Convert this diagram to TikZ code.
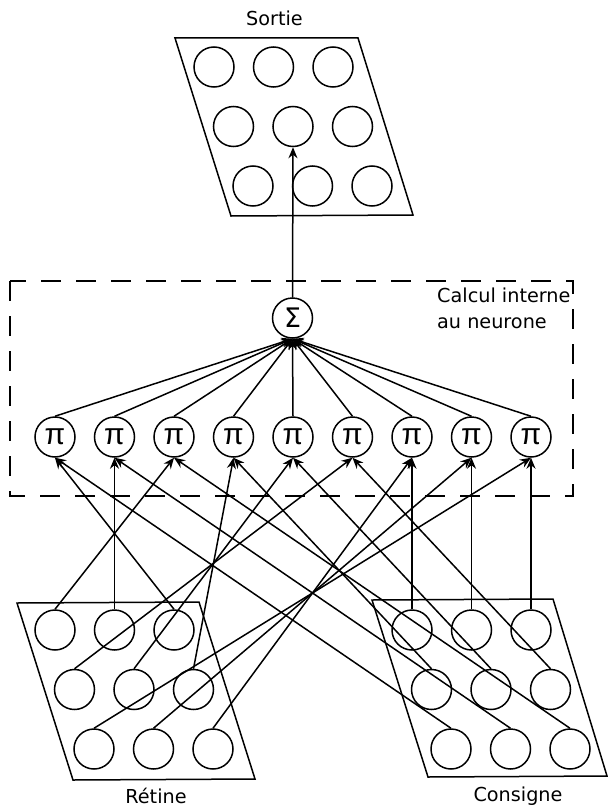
\documentclass[tikz,border=0pt]{standalone}
\usepackage{fontspec}
\setmainfont{DejaVu Sans}
\newfontfamily\grec{Liberation Sans}
\usetikzlibrary{arrows.meta}
\tikzset{
	neurone/.style={draw, circle, line width=1.5bp, minimum size=40bp, inner sep=0pt},
	lien/.style={-{Stealth[length=11bp,width=9bp]}, line width=1.5bp},
	etiquette/.style={font=\fontsize{19.3}{25.5}\selectfont, inner sep=0pt},
	cadre/.style={line width=1.5bp}
}
\begin{document}
\begin{tikzpicture}[x=1bp,y=-1bp]
			\useasboundingbox (0,0) rectangle (608,808);

			% Output layer
			\begin{scope}[shift={(214,67)}]
				\draw[cadre] (-39,-29) -- (144,-29) -- (199,148) -- (17,149) -- cycle;
				\foreach \i in {1,2,3}
					\foreach \j in {1,2,3}
						\node[neurone] (s\i\j) at ({19.5*(\i-1)+59.5*(\j-1)},{59.5*(\i-1)}) {};
			\end{scope}
			\node[etiquette, anchor=base] (sortie) at (274.5,26) {Sortie};

			% Internal computation of the neuron
			\draw[cadre, dash pattern=on 20bp off 15bp] (10,281) rectangle (573,496);
			\node[etiquette, anchor=north west, align=left] (calcul) at (437,288) {Calcul interne\\au neurone};
			\node[neurone, font=\fontsize{27}{27}\selectfont] (sigma) at (292.5,318) {Σ};
			\foreach \k in {1,...,9}
				\node[neurone, font=\grec\fontsize{30}{30}\selectfont] (p\k) at ({55+59.5*(\k-1)},437) {π};

			% Input layers
			\begin{scope}[shift={(55,630)}]
				\draw[cadre] (-38,-27) -- (144,-28) -- (200,149) -- (18,150) -- cycle;
				\foreach \i in {1,2,3}
					\foreach \j in {1,2,3}
						\node[neurone] (r\i\j) at ({19.5*(\i-1)+59.5*(\j-1)},{59.5*(\i-1)}) {};
			\end{scope}
			\node[etiquette, anchor=base] (retine) at (156,803) {Rétine};

			\begin{scope}[shift={(412,630)}]
				\draw[cadre] (-40,-30) -- (141,-31) -- (195,146) -- (16,147) -- cycle;
				\foreach \i in {1,2,3}
					\foreach \j in {1,2,3}
						\node[neurone] (c\i\j) at ({19.5*(\i-1)+59.5*(\j-1)},{59.5*(\i-1)}) {};
			\end{scope}
			\node[etiquette, anchor=base] (consigne) at (518,801) {Consigne};

			% Links into the product units
			\foreach \i in {1,2,3}
				\foreach \j in {1,2,3} {
					\pgfmathtruncatemacro{\nr}{3*(\i-1)+4-\j}
					\pgfmathtruncatemacro{\nc}{3*(3-\i)+\j}
					\draw[lien] (r\i\j.north) -- (p\nr.south);
					\draw[lien] (c\i\j.north) -- (p\nc.south);
				}

			% Sum and output
			\foreach \k in {1,...,9}
				\draw[lien] (p\k.north) -- (sigma.south);
			\draw[lien] (sigma.north) -- (s22.south);
		\end{tikzpicture}
\end{document}
